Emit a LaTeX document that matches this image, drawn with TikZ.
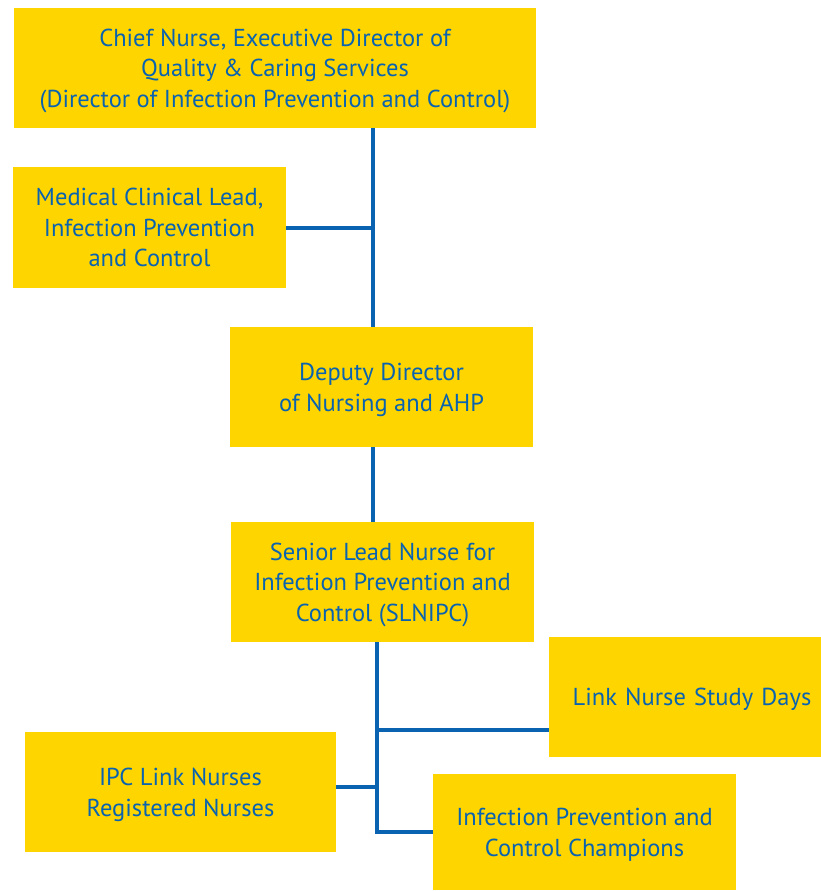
\documentclass[tikz,border=0pt]{standalone}
\usepackage{fontspec}
\setmainfont{PT Sans}
\definecolor{boxyellow}{HTML}{FFD500}
\definecolor{nhsblue}{HTML}{0A63B0}
\begin{document}
\begin{tikzpicture}[x=1pt,y=-1pt,
  orgbox/.style={fill=boxyellow, draw=none, align=center, text=nhsblue,
    font=\fontsize{24.5}{30.7}\selectfont, inner sep=0pt, anchor=center,
    text depth=0pt},
  link/.style={draw=nhsblue, line width=4pt}]
\useasboundingbox (0,0) rectangle (821,891);
\node[orgbox, minimum width=522pt, minimum height=120pt] (chief) at (275,68)
  {Chief Nurse, Executive Director of\\Quality \& Caring Services\\(Director of Infection Prevention and Control)};
\node[orgbox, minimum width=273pt, minimum height=121pt] (med) at (149.5,227.5)
  {Medical Clinical Lead,\\Infection Prevention\\and Control};
\node[orgbox, minimum width=303pt, minimum height=120pt] (dep) at (381.5,387)
  {Deputy Director\\of Nursing and AHP};
\node[orgbox, minimum width=303pt, minimum height=120pt] (sen) at (382.5,582)
  {Senior Lead Nurse for\\Infection Prevention and\\Control (SLNIPC)};
\node[orgbox, minimum width=272pt, minimum height=120pt, text width=262pt] (study) at (685,697)
  {\hspace*{14pt}Link Nurse Study Days};
\node[orgbox, minimum width=311pt, minimum height=120pt] (ipc) at (180.5,792)
  {IPC Link Nurses\\Registered Nurses};
\node[orgbox, minimum width=303pt, minimum height=116pt] (champ) at (584.5,832)
  {Infection Prevention and\\Control Champions};
\coordinate (t1) at (373,0);
\coordinate (t2) at (377,0);
\draw[link] (chief.south -| t1) -- (dep.north -| t1);
\draw[link] (med.east) -- (med.east -| t1);
\draw[link] (dep.south -| t1) -- (sen.north -| t1);
\draw[link] (sen.south -| t2) |- (champ.west);
\draw[link] (t2 |- 0,730) -- (study.west |- 0,730);
\draw[link] (ipc.east |- 0,787) -- (t2 |- 0,787);
\end{tikzpicture}
\end{document}
